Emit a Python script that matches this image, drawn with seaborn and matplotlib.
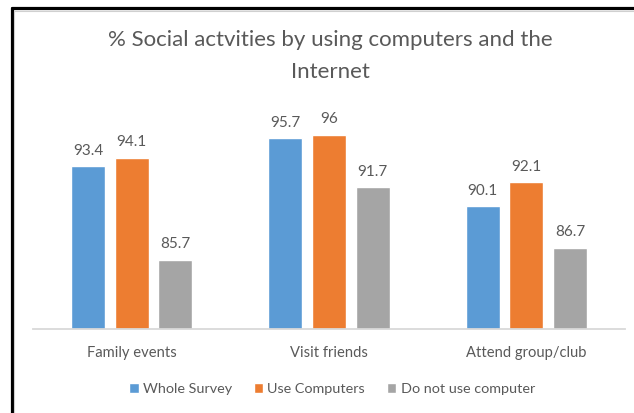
import matplotlib
matplotlib.use("Agg")
import matplotlib.pyplot as plt
from matplotlib.lines import Line2D
import seaborn as sns
import pandas as pd

categories = ["Family events", "Visit friends", "Attend group/club"]
series_names = ["Whole Survey", "Use Computers", "Do not use computer"]
whole_survey = [93.4, 95.7, 90.1]
use_computers = [94.1, 96.0, 92.1]
no_computer = [85.7, 91.7, 86.7]
value_labels = [
    ["93.4", "95.7", "90.1"],
    ["94.1", "96", "92.1"],
    ["85.7", "91.7", "86.7"],
]
colors = ["#5B9BD5", "#ED7D31", "#A5A5A5"]
title = "% Social actvities by using computers and the\nInternet"

sns.set_theme(style="white")
plt.rcParams["font.family"] = ["Lato", "DejaVu Sans"]
text_color = "#595959"

df = pd.DataFrame({
    "category": categories * 3,
    "series": [s for s in series_names for _ in categories],
    "value": whole_survey + use_computers + no_computer,
})

W, H = 634, 413
fig = plt.figure(figsize=(W / 100, H / 100), dpi=100)
ax = fig.add_axes([33 / W, 1 - 329 / H, (625 - 33) / W, (329 - 86) / H])

sns.barplot(data=df, x="category", y="value", hue="series",
            order=categories, hue_order=series_names, palette=colors,
            width=0.663, gap=0.22, saturation=1, ax=ax, legend=True)

ax.set_ylim(80, 100)
ax.set_xlim(-0.5, 2.5)
ax.set_xlabel("")
ax.set_ylabel("")
ax.set_yticks([])
for side in ["left", "right", "top"]:
    ax.spines[side].set_visible(False)
ax.spines["bottom"].set_color("#D9D9D9")
ax.spines["bottom"].set_linewidth(1.3)
ax.tick_params(axis="x", length=0, pad=12, labelsize=10.6, labelcolor=text_color)

for cont, labels in zip(ax.containers, value_labels):
    ax.bar_label(cont, labels=labels, padding=6, fontsize=11, color=text_color)

handles, labs = ax.get_legend_handles_labels()
ax.get_legend().remove()
fig.legend(handles, labs, loc="center", bbox_to_anchor=(332 / W, 1 - 389 / H),
           ncol=3, frameon=False, fontsize=10.4, labelcolor=text_color,
           handlelength=0.65, handleheight=0.65, handletextpad=0.3,
           columnspacing=1.5)

fig.text(330 / W, 1 - 30 / H, title, ha="center", va="top",
         fontsize=16, color=text_color, linespacing=1.75)

# outer frame (top and left edges)
fig.add_artist(Line2D([11.5 / W, 1.0], [1 - 8 / H, 1 - 8 / H],
                      transform=fig.transFigure, color="black", lw=2.3))
fig.add_artist(Line2D([11.5 / W, 11.5 / W], [0.0, 1 - 8 / H],
                      transform=fig.transFigure, color="black", lw=2.3))
fig.add_artist(Line2D([14 / W, 1.0], [1 - 10.5 / H, 1 - 10.5 / H],
                      transform=fig.transFigure, color="#D0D0D0", lw=0.8))
fig.add_artist(Line2D([14 / W, 14 / W], [0.0, 1 - 10.5 / H],
                      transform=fig.transFigure, color="#D0D0D0", lw=0.8))

fig.savefig("out.png", dpi=100)
